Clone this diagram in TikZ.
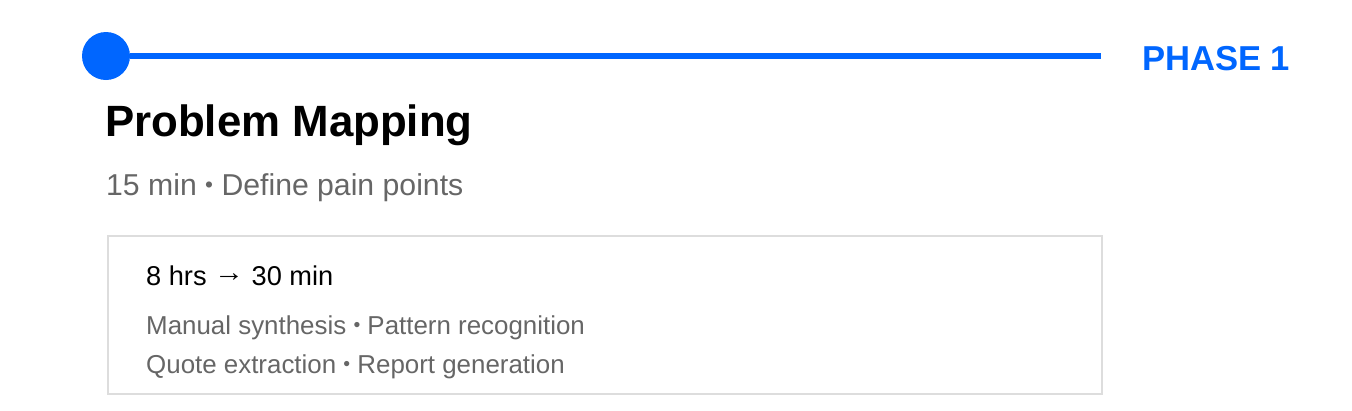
\documentclass[tikz,border=0pt]{standalone}
\usepackage{fontspec}
\setmainfont{Liberation Sans}
\usetikzlibrary{positioning}
\definecolor{phaseblue}{HTML}{0066FF}
\definecolor{softgray}{HTML}{666666}
\definecolor{boxgray}{HTML}{DDDDDD}
\newcommand{\dotsep}{\raisebox{0.08em}{\scalebox{0.75}{•}}}
\newcommand{\toarrow}{\raisebox{0.14em}{\scalebox{1.1}[1]{→}}}
\tikzset{
  txt/.style={inner sep=0pt, anchor=base west},
  pxfont/.style={font=\fontsize{#1}{#1}\selectfont},
}
\begin{document}
\begin{tikzpicture}[x=1pt,y=-1pt]
                \useasboundingbox (0,0) rectangle (1352,410);
                % timeline
                \node[circle, fill=phaseblue, minimum size=48pt, inner sep=0pt] (dot) at (106,56) {};
                \coordinate (lineend) at (1101,56);
                \draw[phaseblue, line width=6pt] (dot.east) -- (lineend);
                \node[txt, text=phaseblue, font=\bfseries\fontsize{34.6}{35}\selectfont] (phase) at (1142,70) {PHASE 1};
                % heading
                \node[txt, font=\bfseries\fontsize{43.8}{44}\selectfont] (title) at (105,136) {Problem Mapping};
                \node[txt, text=softgray, pxfont=30.2] (sub) at (106,195) {15 min \dotsep{} Define pain points};
                % card
                \node[draw=boxgray, line width=2pt, minimum width=994pt, minimum height=158pt,
                      anchor=north west, inner sep=0pt] (card) at (107,235) {};
                \node[txt, pxfont=27.2] (gain) at (146,285) {8 hrs \toarrow{} 30 min};
                \node[txt, text=softgray, pxfont=25.9] (tasksa) at (146,334) {Manual synthesis \dotsep{} Pattern recognition};
                \node[txt, text=softgray, pxfont=25.9] (tasksb) at (146,373) {Quote extraction \dotsep{} Report generation};
\end{tikzpicture}
\end{document}
